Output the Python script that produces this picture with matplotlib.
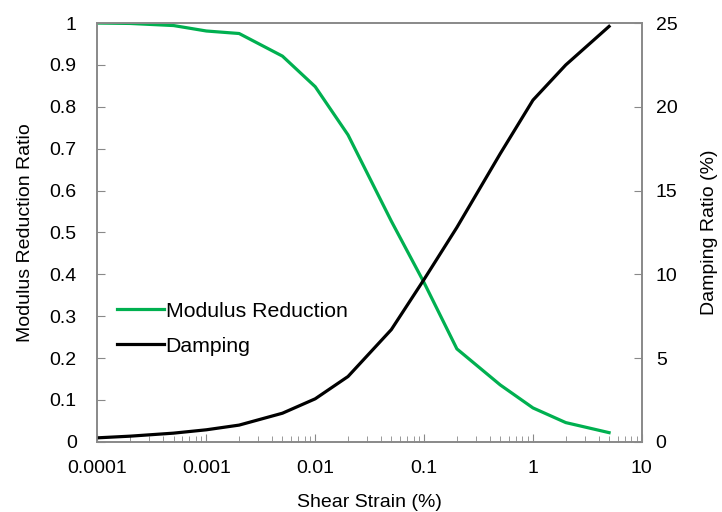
import matplotlib.pyplot as plt
from matplotlib.ticker import LogLocator, FixedLocator, FixedFormatter, NullFormatter

plt.rcParams['font.family'] = ['Liberation Sans', 'DejaVu Sans']

# data
strain = [0.0001, 0.0002, 0.0005, 0.001, 0.002, 0.005, 0.01, 0.02, 0.05, 0.1, 0.2, 0.5, 1, 2, 5]
modulus = [1.0, 0.999, 0.994, 0.981, 0.975, 0.921, 0.848, 0.733, 0.527, 0.38, 0.222, 0.136, 0.081, 0.046, 0.022]
damping = [0.24, 0.34, 0.52, 0.72, 1.0, 1.71, 2.57, 3.9, 6.7, 9.7, 12.8, 17.2, 20.4, 22.5, 24.8]

x_ticks = [0.0001, 0.001, 0.01, 0.1, 1, 10]
x_labels = ['0.0001', '0.001', '0.01', '0.1', '1', '10']
left_ticks = [0, 0.1, 0.2, 0.3, 0.4, 0.5, 0.6, 0.7, 0.8, 0.9, 1]
left_labels = ['0', '0.1', '0.2', '0.3', '0.4', '0.5', '0.6', '0.7', '0.8', '0.9', '1']
right_ticks = [0, 5, 10, 15, 20, 25]

green = '#00B050'
gray = '#898989'
fs = 14

fig = plt.figure(figsize=(7.22, 5.12), dpi=100)
ax = fig.add_axes([0.135, 0.137, 0.754, 0.818])
ax2 = ax.twinx()

l1, = ax.plot(strain, modulus, color=green, lw=2.3, label='Modulus Reduction')
l2, = ax2.plot(strain, damping, color='black', lw=2.3, label='Damping')

ax.set_xscale('log')
ax.set_xlim(0.0001, 10)
ax.set_ylim(0, 1)
ax2.set_ylim(0, 25)

ax.xaxis.set_major_locator(FixedLocator(x_ticks))
ax.xaxis.set_major_formatter(FixedFormatter(x_labels))
ax.xaxis.set_minor_locator(LogLocator(base=10, subs=range(2, 10)))
ax.xaxis.set_minor_formatter(NullFormatter())
ax.set_yticks(left_ticks)
ax.set_yticklabels(left_labels)
ax2.set_yticks(right_ticks)

for a in (ax, ax2):
    for s in a.spines.values():
        s.set_color(gray)
        s.set_linewidth(1.2)
ax.tick_params(axis='x', which='major', direction='in', length=6, color=gray, labelsize=fs, pad=13)
ax.tick_params(axis='x', which='minor', direction='in', length=4, color=gray)
ax.tick_params(axis='y', direction='in', length=6, color=gray, labelsize=fs, pad=15)
ax2.tick_params(axis='y', direction='in', length=6, color=gray, labelsize=fs, pad=10)

ax.set_xlabel('Shear Strain (%)', fontsize=fs, labelpad=12)
ax.set_ylabel('Modulus Reduction Ratio', fontsize=fs, labelpad=11)
ax2.set_ylabel('Damping Ratio (%)', fontsize=fs, labelpad=17)

ax.legend([l1, l2], ['Modulus Reduction', 'Damping'], loc='upper left',
          bbox_to_anchor=(0.02, 0.355), frameon=False, fontsize=fs + 1.3,
          handlelength=2.2, handletextpad=0.1, borderaxespad=0, labelspacing=0.75)

plt.savefig('out.png', dpi=100)
